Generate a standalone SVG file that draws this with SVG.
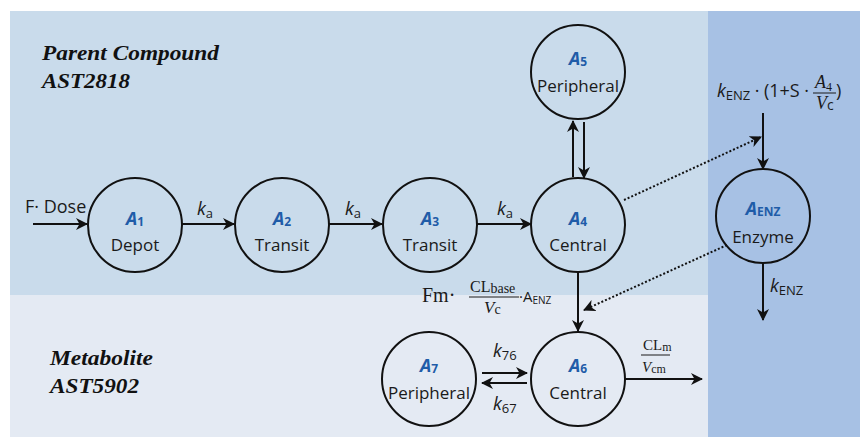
<svg xmlns="http://www.w3.org/2000/svg" width="860" height="437" viewBox="0 0 860 437">
<style>
.node{fill:none;stroke:#111;stroke-width:2}
.lbl{font-family:"Open Sans","Liberation Sans",sans-serif;font-size:17px;fill:#1a1a1a}
.a{font-family:"Open Sans","Liberation Sans",sans-serif;font-size:18px;font-weight:bold;font-style:italic;fill:#1f5ca8}
.sub{font-size:12px;font-style:normal}
.title{font-family:"Liberation Serif",serif;font-size:22px;font-weight:bold;font-style:italic;fill:#111}
.edge{stroke:#111;stroke-width:2;fill:none;marker-end:url(#arr)}
.dot{stroke:#111;stroke-width:2;fill:none;stroke-dasharray:2 2;marker-end:url(#arr)}
.t{font-family:"Open Sans","Liberation Sans",sans-serif;fill:#1a1a1a}
.s{font-family:"Liberation Serif",serif;fill:#1a1a1a}
.it{font-style:italic}
</style>
<defs>
<marker id="arr" viewBox="0 0 12 12" refX="11" refY="6" markerWidth="12" markerHeight="12" markerUnits="userSpaceOnUse" orient="auto">
<path d="M0,0 L12,6 L0,12 L3.5,6 z" fill="#111"/>
</marker>
</defs>
<rect x="0" y="0" width="860" height="437" fill="#ffffff"/>
<rect x="10" y="11" width="698" height="284" fill="#c9dbeb"/>
<rect x="10" y="295" width="698" height="142" fill="#e4eaf3"/>
<rect x="708" y="11" width="152" height="426" fill="#a7c1e4"/>

<g id="titles">
<text class="title" x="42" y="60" textLength="177" lengthAdjust="spacingAndGlyphs">Parent Compound</text>
<text class="title" x="42" y="88" textLength="88" lengthAdjust="spacingAndGlyphs">AST2818</text>
<text class="title" x="50" y="365" textLength="103" lengthAdjust="spacingAndGlyphs">Metabolite</text>
<text class="title" x="50" y="393" textLength="89" lengthAdjust="spacingAndGlyphs">AST5902</text>
</g>

<g id="connectors">
<line class="edge" x1="33" y1="224" x2="87" y2="224"/>
<line class="edge" x1="182" y1="224" x2="234" y2="224"/>
<line class="edge" x1="329" y1="224" x2="382" y2="224"/>
<line class="edge" x1="477" y1="224" x2="531" y2="224"/>
<line class="edge" x1="573" y1="177" x2="573" y2="121"/>
<line class="edge" x1="584" y1="122" x2="584" y2="178"/>
<line class="edge" x1="578" y1="272" x2="578" y2="331"/>
<line class="edge" x1="625" y1="379" x2="702" y2="379"/>
<line class="edge" x1="482" y1="373" x2="527" y2="373"/>
<line class="edge" x1="527" y1="383" x2="482" y2="383"/>
<line class="edge" x1="763" y1="113" x2="763" y2="169"/>
<line class="edge" x1="763" y1="263" x2="763" y2="320"/>
<line class="dot" x1="624" y1="200" x2="761" y2="137"/>
<line class="dot" x1="727" y1="245" x2="584" y2="310"/>

<text class="t" x="25" y="213" style="font-size:18px">F· Dose</text>
<text class="t" x="197" y="215" style="font-size:18px"><tspan class="it">k</tspan><tspan style="font-size:13px" dy="3">a</tspan></text>
<text class="t" x="345" y="215" style="font-size:18px"><tspan class="it">k</tspan><tspan style="font-size:13px" dy="3">a</tspan></text>
<text class="t" x="497" y="215" style="font-size:18px"><tspan class="it">k</tspan><tspan style="font-size:13px" dy="3">a</tspan></text>

<text class="t" x="717" y="97" style="font-size:18px" textLength="92" lengthAdjust="spacing"><tspan class="it">k</tspan><tspan style="font-size:13px" dy="3">ENZ</tspan><tspan dy="-3"> · (1+S ·</tspan></text>
<text class="s it" x="815" y="88" style="font-size:18px">A<tspan style="font-size:12px;font-style:normal" dy="3">4</tspan></text>
<line x1="813" y1="93" x2="836" y2="93" stroke="#1a1a1a" stroke-width="1"/>
<text class="s it" x="816" y="109" style="font-size:18px">V<tspan style="font-size:14px;font-style:normal;font-family:'Open Sans',sans-serif" dy="1">c</tspan></text>
<text class="t" x="836" y="97" style="font-size:18px">)</text>

<text class="t" x="770" y="292" style="font-size:18px"><tspan class="it">k</tspan><tspan style="font-size:13px" dy="3">ENZ</tspan></text>

<text class="s" x="422" y="302" style="font-size:20px">Fm·</text>
<text class="s" x="470" y="292" style="font-size:16px">CL<tspan style="font-size:14px" dy="1">base</tspan></text>
<line x1="469" y1="297" x2="519" y2="297" stroke="#1a1a1a" stroke-width="1"/>
<text class="s it" x="484" y="313" style="font-size:17px">V<tspan style="font-size:14px;font-style:normal" dy="1">c</tspan></text>
<text class="t" x="519" y="302" style="font-size:15px">·A<tspan style="font-size:10px" dy="2">ENZ</tspan></text>

<text class="t" x="493" y="357" style="font-size:18px"><tspan class="it">k</tspan><tspan style="font-size:13px" dy="3">76</tspan></text>
<text class="t" x="493" y="410" style="font-size:18px"><tspan class="it">k</tspan><tspan style="font-size:13px" dy="3">67</tspan></text>

<text class="s" x="643" y="350" style="font-size:15px">CL<tspan style="font-size:12px" dy="1">m</tspan></text>
<line x1="641" y1="355" x2="670" y2="355" stroke="#1a1a1a" stroke-width="1"/>
<text class="s" x="642" y="372" style="font-size:15px"><tspan class="it">V</tspan><tspan style="font-size:12px" dy="1">cm</tspan></text>
</g>

<g id="A1"><circle class="node" cx="135" cy="225" r="47"/>
<text class="a" x="135" y="225" text-anchor="middle">A<tspan class="sub" dy="1">1</tspan></text>
<text class="lbl" x="135" y="251" text-anchor="middle">Depot</text></g>
<g id="A2"><circle class="node" cx="282" cy="225" r="47"/>
<text class="a" x="282" y="225" text-anchor="middle">A<tspan class="sub" dy="1">2</tspan></text>
<text class="lbl" x="282" y="251" text-anchor="middle">Transit</text></g>
<g id="A3"><circle class="node" cx="430" cy="225" r="47"/>
<text class="a" x="430" y="225" text-anchor="middle">A<tspan class="sub" dy="1">3</tspan></text>
<text class="lbl" x="430" y="251" text-anchor="middle">Transit</text></g>
<g id="A4"><circle class="node" cx="578" cy="225" r="47"/>
<text class="a" x="578" y="225" text-anchor="middle">A<tspan class="sub" dy="1">4</tspan></text>
<text class="lbl" x="578" y="251" text-anchor="middle">Central</text></g>
<g id="A5"><circle class="node" cx="578" cy="72" r="47"/>
<text class="a" x="578" y="65" text-anchor="middle">A<tspan class="sub" dy="1">5</tspan></text>
<text class="lbl" x="578" y="92" text-anchor="middle">Peripheral</text></g>
<g id="AENZ"><circle class="node" cx="763" cy="216" r="47"/>
<text class="a" x="763" y="215" text-anchor="middle">A<tspan class="sub" dy="1">ENZ</tspan></text>
<text class="lbl" x="763" y="243" text-anchor="middle">Enzyme</text></g>
<g id="A6"><circle class="node" cx="578" cy="379" r="47"/>
<text class="a" x="578" y="372" text-anchor="middle">A<tspan class="sub" dy="1">6</tspan></text>
<text class="lbl" x="578" y="399" text-anchor="middle">Central</text></g>
<g id="A7"><circle class="node" cx="429" cy="379" r="47"/>
<text class="a" x="429" y="372" text-anchor="middle">A<tspan class="sub" dy="1">7</tspan></text>
<text class="lbl" x="429" y="399" text-anchor="middle">Peripheral</text></g>
</svg>
